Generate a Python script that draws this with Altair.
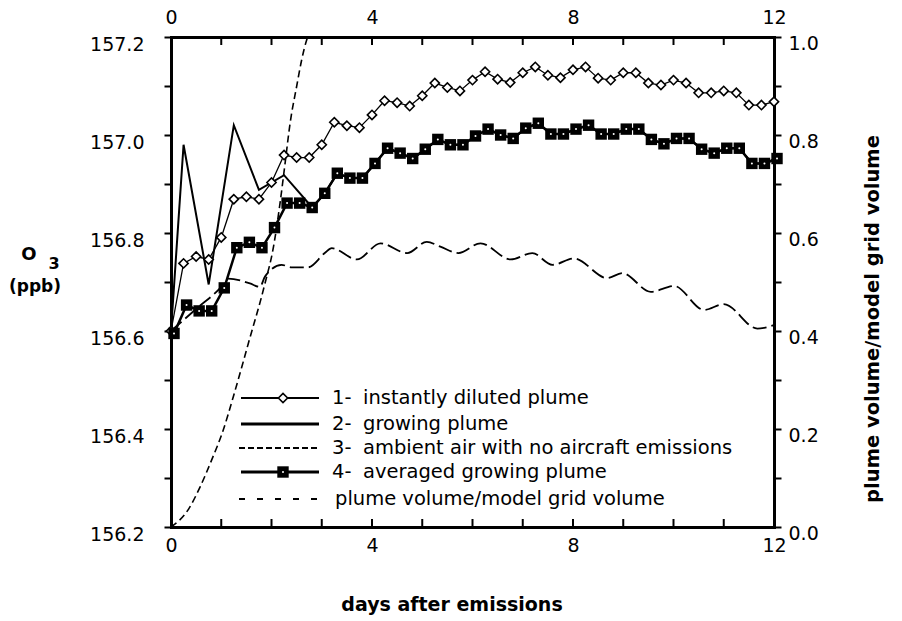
import altair as alt
import pandas as pd

# ---------------- data ----------------
DAYS = [0, 0.25, 0.5, 0.75, 1, 1.25, 1.5, 1.75, 2, 2.25, 2.5, 2.75, 3, 3.25, 3.5, 3.75,
        4, 4.25, 4.5, 4.75, 5, 5.25, 5.5, 5.75, 6, 6.25, 6.5, 6.75, 7, 7.25, 7.5, 7.75,
        8, 8.25, 8.5, 8.75, 9, 9.25, 9.5, 9.75, 10, 10.25, 10.5, 10.75, 11, 11.25, 11.5,
        11.75, 12]
DILUTED = [156.600, 156.738, 156.752, 156.746, 156.791, 156.869, 156.874, 156.869,
           156.903, 156.959, 156.954, 156.954, 156.980, 157.026, 157.019, 157.015,
           157.041, 157.070, 157.066, 157.059, 157.080, 157.106, 157.097, 157.090,
           157.112, 157.129, 157.114, 157.107, 157.127, 157.139, 157.122, 157.117,
           157.133, 157.139, 157.116, 157.112, 157.127, 157.127, 157.106, 157.102,
           157.112, 157.106, 157.086, 157.086, 157.090, 157.086, 157.061, 157.061,
           157.068]

AVG_DAYS = [0.06, 0.31, 0.56, 0.81, 1.06, 1.31, 1.56, 1.81, 2.06, 2.31, 2.56, 2.81,
            3.06, 3.31, 3.56, 3.81, 4.06, 4.31, 4.56, 4.81, 5.06, 5.31, 5.56, 5.81,
            6.06, 6.31, 6.56, 6.81, 7.06, 7.31, 7.56, 7.81, 8.06, 8.31, 8.56, 8.81,
            9.06, 9.31, 9.56, 9.81, 10.06, 10.31, 10.56, 10.81, 11.06, 11.31, 11.56,
            11.81, 12.06]
AVERAGED = [156.595, 156.653, 156.641, 156.641, 156.688, 156.770, 156.781, 156.770,
            156.811, 156.861, 156.861, 156.852, 156.881, 156.922, 156.912, 156.912,
            156.942, 156.973, 156.963, 156.952, 156.971, 156.991, 156.980, 156.980,
            156.998, 157.012, 157.000, 156.993, 157.014, 157.024, 157.002, 157.002,
            157.012, 157.020, 157.002, 157.002, 157.012, 157.012, 156.991, 156.982,
            156.993, 156.993, 156.971, 156.963, 156.973, 156.973, 156.942, 156.942,
            156.952]

GROW_DAYS = [0, 0.25, 0.75, 1.25, 1.75, 2.25]
GROWING = [156.600, 156.980, 156.695, 157.020, 156.888, 156.918]

AMB_DAYS = [0, 0.5, 1.0, 1.14, 1.57, 1.77, 1.87, 2.2, 2.4, 2.73, 3.06, 3.2, 3.7, 4.17,
            4.7, 5.09, 5.36, 5.72, 6.16, 6.76, 7.19, 7.59, 8.02, 8.68, 8.98, 9.55,
            10.01, 10.61, 11.0, 11.67, 12.0]
AMBIENT = [156.600, 156.645, 156.690, 156.707, 156.697, 156.690, 156.711, 156.735,
           156.730, 156.730, 156.759, 156.769, 156.746, 156.779, 156.759, 156.782,
           156.772, 156.759, 156.779, 156.746, 156.759, 156.735, 156.748, 156.708,
           156.718, 156.680, 156.692, 156.643, 156.655, 156.605, 156.612]

VOL_DAYS = [0, 0.34, 0.58, 0.81, 1.04, 1.24, 1.41, 1.54, 1.87, 2.04, 2.17, 2.27, 2.37,
            2.5, 2.6, 2.7, 2.72]
VOLUME = [0.0, 0.035, 0.082, 0.137, 0.198, 0.266, 0.327, 0.375, 0.497, 0.572, 0.661,
          0.742, 0.824, 0.899, 0.953, 0.994, 1.0]

TICK_DAYS = [0, 1, 2, 3, 4, 5, 6, 7, 8, 9, 10, 11, 12]
X_LABELS = [0, 4, 8, 12]
LEFT_TICKS = [156.2, 156.3, 156.4, 156.5, 156.6, 156.7, 156.8, 156.9, 157.0, 157.1, 157.2]
RIGHT_TICKS = [0.0, 0.1, 0.2, 0.3, 0.4, 0.5, 0.6, 0.7, 0.8, 0.9, 1.0]

LEG_NUM = ["1-", "2-", "3-", "4-", ""]
LEG_TEXT = ["instantly diluted plume", "growing plume",
            "ambient air with no aircraft emissions", "averaged growing plume",
            "plume volume/model grid volume"]

# ---------------- layout / style ----------------
W, H = 603, 490
FONT = "DejaVu Sans"
EVEN_LABEL = "round(datum.value*10) % 2 == 0 ? format(datum.value, '.1f') : ''"

xs = alt.Scale(domain=[0, 12], nice=False, zero=False)
ys = alt.Scale(domain=[156.2, 157.2], nice=False, zero=False)
vs = alt.Scale(domain=[0, 1], nice=False, zero=False)

common_axis = dict(domainWidth=3, domainColor="black", domainCap="square",
                   labelFont=FONT, labelFontSize=19, labelColor="black",
                   labelFlush=False, labelOverlap=False, grid=False, title=None)

x_axis = alt.Axis(orient="bottom", values=X_LABELS, ticks=False, labelPadding=9,
                  format="d", **common_axis)
x_top_axis = alt.Axis(orient="top", values=X_LABELS, ticks=False, labelPadding=10,
                      format="d", **common_axis)
y_axis = alt.Axis(orient="left", values=LEFT_TICKS, labelExpr=EVEN_LABEL, tickSize=7,
                  tickWidth=2, tickColor="black", labelPadding=20, labelOffset=7,
                  **common_axis)
v_axis = alt.Axis(orient="right", values=RIGHT_TICKS, labelExpr=EVEN_LABEL, tickSize=7,
                  tickWidth=2, tickColor="black", labelPadding=7, labelOffset=6,
                  **common_axis)

X = alt.X("day:Q", scale=xs, axis=x_axis)
Y = alt.Y("o3:Q", scale=ys, axis=y_axis)

df_dil = pd.DataFrame({"day": DAYS, "o3": DILUTED})
df_avg = pd.DataFrame({"day": AVG_DAYS, "o3": AVERAGED})
df_grow = pd.DataFrame({"day": GROW_DAYS + AVG_DAYS[11:], "o3": GROWING + AVERAGED[11:]})
df_amb = pd.DataFrame({"day": AMB_DAYS, "o3": AMBIENT})
df_vol = pd.DataFrame({"day": VOL_DAYS, "vol": VOLUME})
df_ticks = pd.DataFrame({"t": TICK_DAYS})
one = pd.DataFrame({"a": [0]})

DIAMOND = dict(shape="diamond", filled=True, fill="white", stroke="black",
               strokeWidth=1.6, size=85, opacity=1)
SQUARE = dict(shape="square", filled=True, color="black", size=130, opacity=1)
DOT = dict(shape="circle", filled=True, color="white", size=4, opacity=1)

amb_line = alt.Chart(df_amb).mark_line(color="black", strokeWidth=1.8, strokeDash=[14, 5],
                                       interpolate="monotone").encode(x=X, y=Y)
grow_line = alt.Chart(df_grow).mark_line(color="black", strokeWidth=2).encode(x=X, y=Y)
dil_line = alt.Chart(df_dil).mark_line(color="black", strokeWidth=1.3).encode(x=X, y=Y)
dil_pts = alt.Chart(df_dil).mark_point(**DIAMOND).encode(x=X, y=Y)
avg_line = alt.Chart(df_avg).mark_line(color="black", strokeWidth=2.5).encode(x=X, y=Y)
avg_pts = alt.Chart(df_avg).mark_point(**SQUARE).encode(x=X, y=Y)
avg_dots = alt.Chart(df_avg).mark_point(**DOT).encode(x=X, y=Y)

tick_x = alt.X("t:Q", scale=xs, axis=x_axis)
top_ticks = alt.Chart(df_ticks).mark_rule(color="black", strokeWidth=2).encode(
    x=tick_x, y=alt.value(0), y2=alt.value(8))
bot_ticks = alt.Chart(df_ticks).mark_rule(color="black", strokeWidth=2).encode(
    x=tick_x, y=alt.value(H - 8), y2=alt.value(H))

# ---------------- legend ----------------
LX0, LX1, LMK = 70, 148, 112
ROWS = [361, 387, 411, 435, 462]
leg = []
leg.append(alt.Chart(one).mark_rule(color="black", strokeWidth=1.8).encode(
    x=alt.value(LX0), x2=alt.value(LX1), y=alt.value(ROWS[0])))
leg.append(alt.Chart(one).mark_point(**DIAMOND).encode(x=alt.value(LMK), y=alt.value(ROWS[0])))
leg.append(alt.Chart(one).mark_rule(color="black", strokeWidth=2.8).encode(
    x=alt.value(LX0), x2=alt.value(LX1), y=alt.value(ROWS[1])))
leg.append(alt.Chart(one).mark_rule(color="black", strokeWidth=2, strokeDash=[6, 3]).encode(
    x=alt.value(LX0 - 2), x2=alt.value(LX1), y=alt.value(ROWS[2])))
leg.append(alt.Chart(one).mark_rule(color="black", strokeWidth=2.8).encode(
    x=alt.value(LX0), x2=alt.value(LX1), y=alt.value(ROWS[3])))
leg.append(alt.Chart(one).mark_point(**SQUARE).encode(x=alt.value(LMK), y=alt.value(ROWS[3])))
leg.append(alt.Chart(one).mark_point(**DOT).encode(x=alt.value(LMK), y=alt.value(ROWS[3])))
leg.append(alt.Chart(one).mark_rule(color="black", strokeWidth=1.8, strokeDash=[6, 12]).encode(
    x=alt.value(LX0 - 2), x2=alt.value(LX1), y=alt.value(ROWS[4])))
for i in range(5):
    if LEG_NUM[i]:
        leg.append(alt.Chart(one).mark_text(text=LEG_NUM[i], font=FONT, fontSize=19.5,
                                            align="left", baseline="middle", color="black").encode(
            x=alt.value(161), y=alt.value(ROWS[i])))
        tx = 192
    else:
        tx = 164
    leg.append(alt.Chart(one).mark_text(text=LEG_TEXT[i], font=FONT, fontSize=19.5,
                                        align="left", baseline="middle", color="black").encode(
        x=alt.value(tx), y=alt.value(ROWS[i])))

# ---------------- titles ----------------
def label(txt, x, y, size, angle=0):
    return alt.Chart(one).mark_text(text=txt, font=FONT, fontSize=size, fontWeight="bold",
                                    align="center", baseline="middle", angle=angle,
                                    color="black").encode(x=alt.value(x), y=alt.value(y))

titles = [
    label("O", -142, 218, 18),
    label("3", -117, 227, 16),
    label("(ppb)", -136, 250, 17),
    label("days after emissions", 281, 568, 19),
    label("plume volume/model grid volume", 702, 282, 19.5, angle=270),
]

left = alt.layer(amb_line, grow_line, dil_line, avg_line, dil_pts, avg_pts, avg_dots,
                 top_ticks, bot_ticks, *leg, *titles)

vol_line = alt.Chart(df_vol).mark_line(color="black", strokeWidth=1.6, strokeDash=[7, 4],
                                       interpolate="monotone").encode(
    x=alt.X("day:Q", scale=xs, axis=x_top_axis),
    y=alt.Y("vol:Q", scale=vs, axis=v_axis))
right = alt.layer(vol_line)

chart = alt.layer(left, right).resolve_scale(x="independent", y="independent").properties(
    width=W, height=H,
    autosize=alt.AutoSizeParams(type="none"),
    padding={"left": 171, "top": 37, "right": 128, "bottom": 94},
    background="white",
).configure_view(stroke=None)

chart.save("out.html", embed_options={"renderer": "svg", "actions": False})
